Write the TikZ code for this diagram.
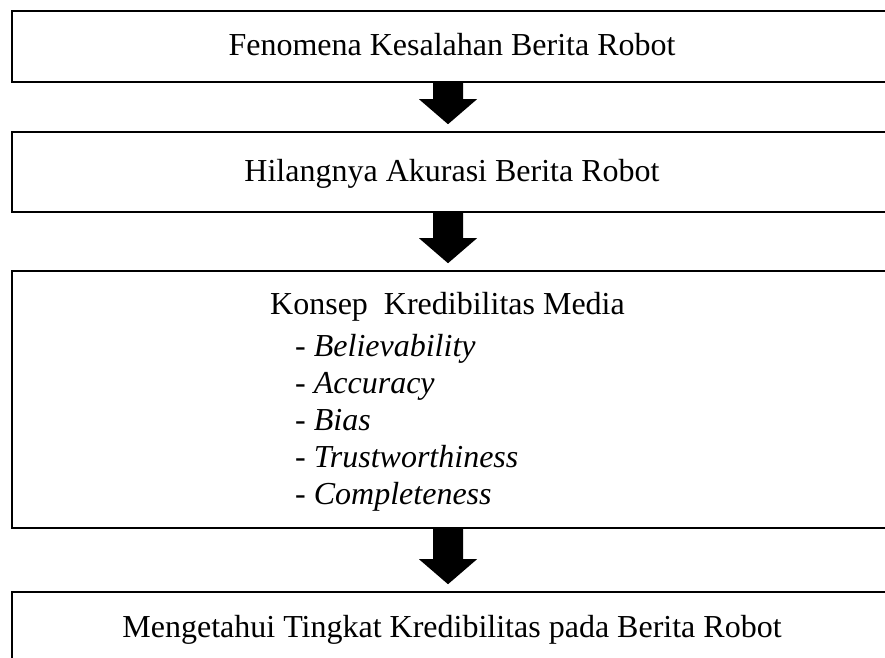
\documentclass[tikz,border=0pt]{standalone}
\usepackage{fontspec}
\setmainfont{Liberation Serif}
\usetikzlibrary{positioning}
\usetikzlibrary{calc}

\tikzset{
  kotak/.style={draw=black, line width=1.6pt, rectangle, minimum width=880pt,
                inner sep=0pt, text height=22pt, text depth=4pt},
  teks/.style={inner sep=0pt},
}
% panah blok ke bawah dari kotak #1 ke kotak #2
\newcommand{\panah}[2]{%
  \fill[black] let \p1=(#1.south), \p2=(#2.north) in
    (\x1-19pt,\y1) -- (\x1+11pt,\y1) -- (\x1+11pt,\y2+32pt) -- (\x1+25pt,\y2+32pt)
    -- (\x1-4pt,\y2+7pt) -- (\x1-33pt,\y2+32pt) -- (\x1-19pt,\y2+32pt) -- cycle;}

\begin{document}
\begin{tikzpicture}[x=1pt, y=-1pt, font=\fontsize{32}{38.8}\selectfont]
	\useasboundingbox (0,0) rectangle (885,657);
	\clip (0,0) rectangle (885,657);

	\node[kotak, minimum height=71pt] (fenomena) at (452,46.5) {Fenomena Kesalahan Berita Robot};
	\node[kotak, minimum height=80pt] (akurasi) at (452,172) {Hilangnya Akurasi Berita Robot};
	\node[kotak, minimum height=257pt] (konsep) at (452,399.5) {};
	\node[kotak, minimum height=72pt] (tujuan) at (452,628) {Mengetahui Tingkat Kredibilitas pada Berita Robot};

	\node[teks, anchor=base west] (judul) at (270,314) {Konsep\ \ Kredibilitas Media};
	\foreach \kata [count=\i] in {Believability, Accuracy, Bias, Trustworthiness, Completeness}
	    \node[teks, anchor=base west] (butir\i) at (295,{319+37*\i}) {- \textit{\kata}};

	\panah{fenomena}{akurasi}
	\panah{akurasi}{konsep}
	\panah{konsep}{tujuan}
\end{tikzpicture}
\end{document}
